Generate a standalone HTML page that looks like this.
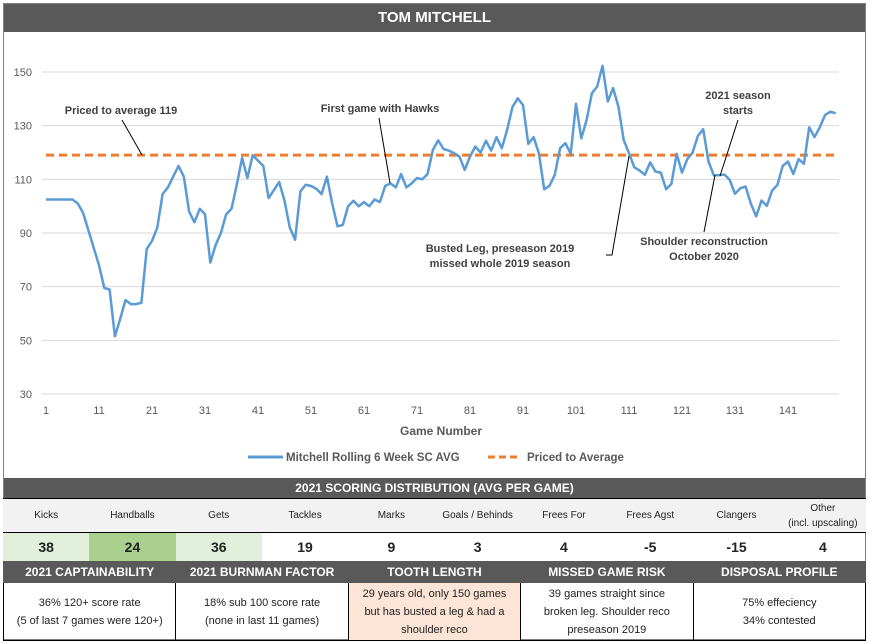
<!DOCTYPE html>
<html><head><meta charset="utf-8"><style>
body{margin:0;background:#fff;font-family:"Liberation Sans",sans-serif;}
#wrap{position:relative;width:869px;height:644px;overflow:hidden;}
.bar{position:absolute;background:#595959;color:#fff;font-weight:bold;text-align:center;}
table{position:absolute;border-collapse:collapse;table-layout:fixed;}
td{border:1px solid #000;text-align:center;padding:0;font-size:10px;color:#222;}
</style></head><body>
<div id="wrap">
<div style="position:absolute;left:3px;top:3px;width:863px;height:637px;border:1px solid #7f7f7f;box-sizing:border-box"></div>
<div class="bar" style="left:4px;top:4px;width:861px;height:28px;line-height:28px;font-size:15px">TOM MITCHELL</div>
<svg id="chart" width="869" height="446" style="position:absolute;left:0;top:32px"></svg>
<div class="bar" style="left:4px;top:478px;width:861px;height:20px;line-height:20px;font-size:12px">2021 SCORING DISTRIBUTION (AVG PER GAME)</div>
<table style="left:3px;top:498px;width:863px">
<tr style="height:34px;background:#f2f2f2">
<td style="border-left:none;border-right:none">Kicks</td><td style="border-left:none;border-right:none">Handballs</td><td style="border-left:none;border-right:none">Gets</td><td style="border-left:none;border-right:none">Tackles</td><td style="border-left:none;border-right:none">Marks</td><td style="border-left:none;border-right:none">Goals / Behinds</td><td style="border-left:none;border-right:none">Frees For</td><td style="border-left:none;border-right:none">Frees Agst</td><td style="border-left:none;border-right:none">Clangers</td><td style="border-left:none;border-right:none;line-height:15px">Other<br>(incl. upscaling)</td></tr>
<tr style="height:29px;font-weight:bold">
<td style="background:#e2efda;font-size:14px;border:none">38</td><td style="background:#a9d08e;font-size:14px;border:none">24</td><td style="background:#e2efda;font-size:14px;border:none">36</td><td style="font-size:14px;border:none">19</td><td style="font-size:14px;border:none">9</td><td style="font-size:14px;border:none">3</td><td style="font-size:14px;border:none">4</td><td style="font-size:14px;border:none">-5</td><td style="font-size:14px;border:none">-15</td><td style="font-size:14px;border:none">4</td></tr>
</table>
<table style="left:3px;top:561px;width:863px">
<tr style="height:21px;background:#595959;color:#fff;font-weight:bold">
<td style="color:#fff;font-size:12px;border-color:#595959">2021 CAPTAINABILITY</td><td style="color:#fff;font-size:12px;border-color:#595959">2021 BURNMAN FACTOR</td><td style="color:#fff;font-size:12px;border-color:#595959">TOOTH LENGTH</td><td style="color:#fff;font-size:12px;border-color:#595959">MISSED GAME RISK</td><td style="color:#fff;font-size:12px;border-color:#595959">DISPOSAL PROFILE</td></tr>
<tr style="height:58px;line-height:18px">
<td style="font-size:11px">36% 120+ score rate<br>(5 of last 7 games were 120+)</td><td style="font-size:11px">18% sub 100 score rate<br>(none in last 11 games)</td><td style="font-size:11px;background:#fce4d6">29 years old, only 150 games<br>but has busted a leg &amp; had a<br>shoulder reco</td><td style="font-size:11px">39 games straight since<br>broken leg. Shoulder reco<br>preseason 2019</td><td style="font-size:11px">75% effeciency<br>34% contested</td></tr>
</table>
</div>
<script>
const yTicks=[30,50,70,90,110,130,150];
const xTicks=[1,11,21,31,41,51,61,71,81,91,101,111,121,131,141];
const pricedAverage=119;
const rolling=[102.5,102.5,102.5,102.5,102.5,102.5,101,97.5,91,84.5,78,69.5,69,51.5,58,65,63.5,63.5,64,84,87,92,104.5,107,111,115,111,98,94,99,97,79,85.5,90,97,99,108,118,110.5,119,117,115,103,106,109,102,92,87.5,105.5,108,107.5,106.5,104.5,111,101,92.5,93,100,102,100,101.5,100,102.5,101.5,107.5,108.5,107,112,107,108.5,110.5,110,112,121,124.5,121.3,120.7,119.7,118.5,113.5,118.5,122.2,120,124.4,120.7,125.7,121.6,128.4,136.9,140.2,137.7,123.2,125.7,119.7,106.3,107.6,111.7,121.6,123.5,119.5,138.1,125.3,132.1,142.1,144.6,152.3,139,144,137.1,124.7,119.7,114.5,113.3,111.7,116.3,112.9,112.5,106.3,108.3,119.5,112.5,117.5,120,126.2,128.7,116.6,111.5,111.5,111.8,109.8,104.6,106.7,107.3,100.9,96.2,102.1,100.1,105.8,107.9,115,116.6,112,117.5,115.8,129.4,125.7,129.4,134,135.2,134.6];
const svg=document.getElementById('chart');
const NS='http://www.w3.org/2000/svg';
const OY=32;
function X(g){return 46+(g-1)*5.3;}
function Y(v){return 72+(150-v)*(322/120)-OY;}
function mk(t,a,txt){const e=document.createElementNS(NS,t);for(const k in a)e.setAttribute(k,a[k]);if(txt!==undefined)e.textContent=txt;svg.appendChild(e);return e;}
const font='Liberation Sans, sans-serif';
yTicks.forEach(v=>{
 const l=mk('line',{x1:42,x2:839,y1:Y(v),y2:Y(v),stroke:'#d9d9d9','stroke-width':1});
 
 
 const t=mk('text',{x:32,y:Y(v)+4,'text-anchor':'end','font-size':11,fill:'#595959','font-family':font},v);
 
 
});
xTicks.forEach(g=>{
 const t=mk('text',{x:X(g),y:414-OY,'text-anchor':'middle','font-size':11,fill:'#595959','font-family':font},g);
 
 
});
const at=mk('text',{x:441,y:435-OY,'text-anchor':'middle','font-size':12,'font-weight':'bold',fill:'#595959','font-family':font},'Game Number');


const pl=mk('line',{x1:X(1),x2:X(rolling.length),y1:Y(pricedAverage),y2:Y(pricedAverage),stroke:'#ed7d31','stroke-width':3,'stroke-dasharray':'8,5'});


const pts=rolling.map((v,i)=>X(i+1).toFixed(1)+','+Y(v).toFixed(1)).join(' ');
const rl=mk('polyline',{points:pts,fill:'none',stroke:'#5b9bd5','stroke-width':2.5,'stroke-linejoin':'round'});


// annotations
const anns=[
 {lines:['Priced to average 119'],x:121,y:114,ln:[[122,120],[142,155]]},
 {lines:['First game with Hawks'],x:380,y:112,ln:[[379,118],[390,183]]},
 {lines:['Busted Leg, preseason 2019','missed whole 2019 season'],x:500,y:252,ln:[[606,255],[612,255],[629,156]]},
 {lines:['Shoulder reconstruction','October 2020'],x:704,y:245,ln:[[704,232],[715,175]]},
 {lines:['2021 season','starts'],x:738,y:99,ln:[[738,120],[720,176]]}
];
anns.forEach(a=>{
 a.lines.forEach((s,i)=>{
  const t=mk('text',{x:a.x,y:a.y-OY+i*15,'text-anchor':'middle','font-size':11,'font-weight':'bold',fill:'#404040','font-family':font},s);
  
  
 });
 const p=mk('polyline',{points:a.ln.map(q=>q[0]+','+(q[1]-OY)).join(' '),fill:'none',stroke:'#000','stroke-width':1});
 
 
});
// legend
const l1=mk('line',{x1:248,x2:283,y1:457-OY,y2:457-OY,stroke:'#5b9bd5','stroke-width':3});


const t1=mk('text',{x:286,y:461-OY,'font-size':11.5,'font-weight':'bold',fill:'#595959','font-family':font},'Mitchell Rolling 6 Week SC AVG');


const l2=mk('line',{x1:488,x2:521,y1:457-OY,y2:457-OY,stroke:'#ed7d31','stroke-width':3,'stroke-dasharray':'7,4'});


const t2=mk('text',{x:527,y:461-OY,'font-size':11.5,'font-weight':'bold',fill:'#595959','font-family':font},'Priced to Average');


</script>
</body></html>
